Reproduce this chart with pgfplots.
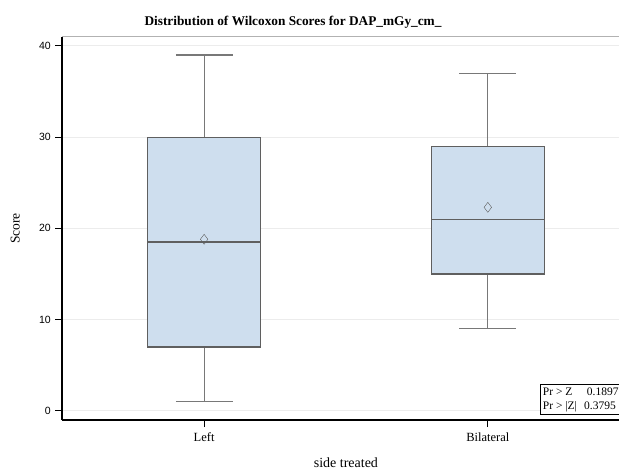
\documentclass[border=0pt]{standalone}
\usepackage{fontspec}
\setmainfont{Liberation Serif}
\newfontfamily\ticksans{Liberation Sans}
\usepackage{pgfplots}
\pgfplotsset{compat=1.18}
\usepgfplotslibrary{statistics}
\definecolor{boxfill}{RGB}{206,222,238}
\definecolor{boxedge}{RGB}{95,95,95}
\definecolor{whisk}{RGB}{120,120,120}
\definecolor{gridc}{RGB}{236,236,236}
\pgfplotsset{
  sasbox/.style={
    boxplot/draw direction=y,
    boxplot/box extend=0.4, boxplot/whisker extend=0.2,
    boxplot/every box/.style={draw=boxedge, fill=boxfill, line width=1.1pt},
    boxplot/every whisker/.style={draw=whisk, line width=1.1pt},
    boxplot/every median/.style={draw=boxedge, line width=1.1pt},
    boxplot/every average/.style={/tikz/mark=diamond, /tikz/mark size=5pt,
      /tikz/mark options={draw=boxedge, fill=boxfill, line width=1pt}},
    draw=boxedge, solid,
  }
}
\begin{document}
\begin{tikzpicture}
\useasboundingbox (-62.3pt,-49pt) rectangle (556.7pt,420pt);
\begin{axis}[
  at={(0pt,0pt)}, anchor=south west,
  width=600pt, height=383.3pt, scale only axis,
  xmin=0.5, xmax=2.615, ymin=-1, ymax=41,
  axis lines*=left,
  axis line style={black, line width=1.8pt, -},
  ytick={0,10,20,30,40}, xtick={1,2}, xticklabels={Left,Bilateral},
  tick align=outside, major tick length=7pt,
  tick style={black, line width=1pt},
  ymajorgrids, grid style={gridc, line width=0.8pt},
  yticklabel style={font=\ticksans\fontsize{10.5}{12}\selectfont, xshift=-1pt},
  xticklabel style={font=\fontsize{12.5}{14}\selectfont, yshift=-2pt},
  /pgf/number format/assume math mode=true,
  clip=false,
]
\addplot[sasbox, boxplot prepared={draw position=1, lower whisker=1, lower quartile=7,
    median=18.5, upper quartile=30, upper whisker=39, average=18.8}] coordinates {};
\addplot[sasbox, boxplot prepared={draw position=2, lower whisker=9, lower quartile=15,
    median=21, upper quartile=29, upper whisker=37, average=22.3}] coordinates {};
\draw[gray!60, line width=0.8pt] (rel axis cs:0,1) -- (rel axis cs:1,1);
\end{axis}
\node[font=\bfseries\fontsize{13.3}{15}\selectfont, anchor=base] at (230.7pt,394pt) {Distribution of Wilcoxon Scores for DAP\_mGy\_cm\_};
\node[font=\fontsize{14}{16}\selectfont, anchor=base] at (283.6pt,-47pt) {side treated};
\node[font=\fontsize{13.5}{15}\selectfont, rotate=90] at (-47pt,191.5pt) {Score};
\draw[black, line width=0.8pt, fill=white] (477.7pt,6pt) rectangle (620pt,36pt);
\node[font=\fontsize{11.5}{12}\selectfont, anchor=base west, inner sep=0pt] at (480.4pt,25pt) {Pr > Z};
\node[font=\fontsize{11.5}{12}\selectfont, anchor=base west, inner sep=0pt] at (524.4pt,25pt) {0.1897};
\node[font=\fontsize{11.5}{12}\selectfont, anchor=base west, inner sep=0pt] at (480.4pt,11pt) {Pr > |Z|};
\node[font=\fontsize{11.5}{12}\selectfont, anchor=base west, inner sep=0pt] at (521.7pt,11pt) {0.3795};
\end{tikzpicture}
\end{document}
